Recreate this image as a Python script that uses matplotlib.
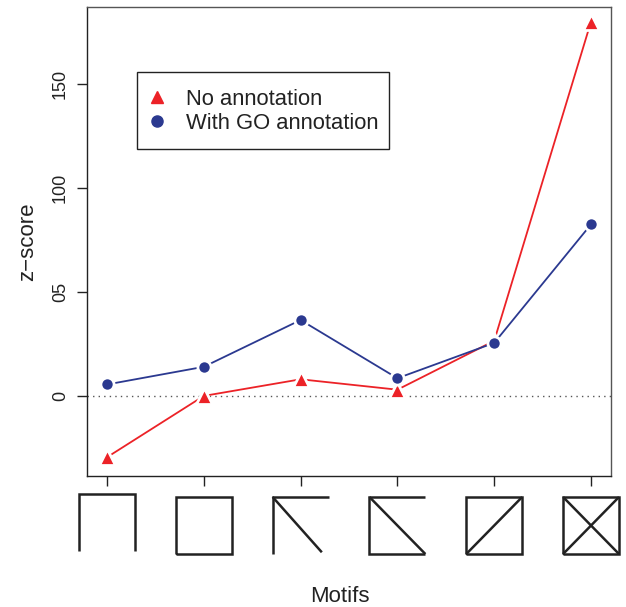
import matplotlib
matplotlib.use("Agg")
import matplotlib.pyplot as plt
from matplotlib.lines import Line2D
from matplotlib.patches import Rectangle

plt.rcParams['font.family'] = ['Liberation Sans', 'DejaVu Sans']

motifs = [1, 2, 3, 4, 5, 6]
no_annotation = [-29.5, 0.0, 8.0, 3.0, 26.5, 180.0]
with_go = [5.5, 14.0, 36.5, 8.5, 25.5, 82.5]
ytick_vals = [0, 50, 100, 150]
ytick_labels = ['0', '05', '100', '150']

RED = '#EC2227'
BLUE = '#2B3990'

W, H = 626, 607
fig = plt.figure(figsize=(W / 100, H / 100), dpi=100)
L, R_, T, B = 87, 611, 7, 476
ax = fig.add_axes([L / W, 1 - B / H, (R_ - L) / W, (B - T) / H])

ax.axhline(0, color='#555555', lw=1.0, ls=(0, (1, 3)), zorder=1)

ax.plot(motifs, no_annotation, color=RED, lw=1.3, zorder=2)
ax.plot(motifs, no_annotation, ls='none', marker='^', ms=12, mfc=RED,
        mec='white', mew=2.0, zorder=3)
ax.plot(motifs, with_go, color=BLUE, lw=1.3, zorder=4)
ax.plot(motifs, with_go, ls='none', marker='o', ms=9.5, mfc=BLUE,
        mec='white', mew=2.0, zorder=5)

ax.set_xlim(1 - 20 / 97, 6 + 20 / 97)
ax.set_ylim(-38.5, 187)
ax.set_xticks(motifs)
ax.set_xticklabels([])
ax.set_yticks(ytick_vals)
ax.set_yticklabels(ytick_labels, rotation=90, va='center')
ax.tick_params(axis='both', direction='out', length=7, width=1.0,
               color='#222222', labelsize=13, labelcolor='#222222')
ax.tick_params(axis='y', pad=6)
for s in ax.spines.values():
    s.set_color('#555555')
    s.set_linewidth(1.0)
ax.spines['left'].set_color('#222222')
ax.spines['bottom'].set_color('#222222')

ax.set_ylabel('z\u2212score', fontsize=16, color='#222222', labelpad=10)

# legend: frame drawn separately for exact padding
def ax_frac(px, py):
    return ((px - L) / (R_ - L), (B - py) / (B - T))

x0, y0 = ax_frac(137, 149)
x1, y1 = ax_frac(389, 72)
ax.add_patch(Rectangle((x0, y0), x1 - x0, y1 - y0, transform=ax.transAxes,
                       fill=True, facecolor='white', edgecolor='#222222',
                       lw=1.0, zorder=6))
handles = [Line2D([], [], ls='none', marker='^', ms=9, color=RED),
           Line2D([], [], ls='none', marker='o', ms=8, color=BLUE)]
leg = ax.legend(handles, ['No annotation', 'With GO annotation'],
                loc='center left', bbox_to_anchor=ax_frac(148, 111.5),
                borderaxespad=0, borderpad=0, fontsize=15.8, frameon=False,
                handlelength=0.8, handletextpad=0.92, labelspacing=0.15)
leg.set_zorder(7)
for t in leg.get_texts():
    t.set_color('#222222')

# motif icons below axis
icon_ax = fig.add_axes([L / W, 0, (R_ - L) / W, 1 - B / H])
icon_ax.set_xlim(ax.get_xlim())
icon_ax.set_ylim(H, B)
icon_ax.axis('off')

TL, TR, BL, BR = (0, 1), (1, 1), (0, 0), (1, 0)
shapes = [
    [[BL, TL, TR, BR]],
    [[BL, TL, TR, BR, BL]],
    [[BL, TL, TR], [TL, (0.88, 0.03)]],
    [[TR, TL, BL, BR], [TL, BR]],
    [[BL, TL, TR, BR, BL], [BL, TR]],
    [[BL, TL, TR, BR, BL], [BL, TR], [TL, BR]],
]
half_w = 28 / 97
for i, (xc, shp) in enumerate(zip(motifs, shapes)):
    top = 494 if i == 0 else 497
    bot = top + 57
    for seg in shp:
        xs = [xc - half_w + 2 * half_w * p[0] for p in seg]
        ys = [bot - (bot - top) * p[1] for p in seg]
        icon_ax.plot(xs, ys, color='#222222', lw=1.8, solid_joinstyle='miter',
                     solid_capstyle='butt', clip_on=False)

fig.text(340 / W, 1 - 597 / H, 'Motifs', ha='center', va='center',
         fontsize=16, color='#222222')

fig.savefig('out.png', dpi=100)
